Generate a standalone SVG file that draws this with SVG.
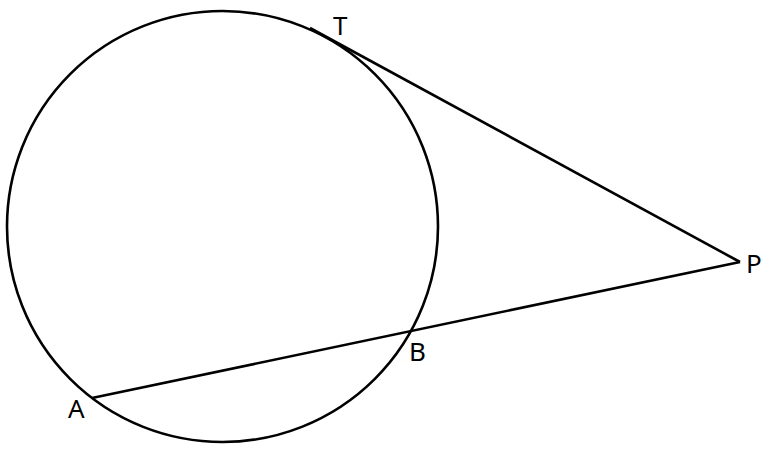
<svg xmlns="http://www.w3.org/2000/svg" width="774" height="453" viewBox="0 0 774 453">
<style>
.s{fill:none;stroke:#000;stroke-width:2.6}
.l{font-family:"Noto Sans","DejaVu Sans",sans-serif;font-size:26px;fill:#000}
</style>
<rect width="774" height="453" fill="#fff"/>
<g id="circle"><circle class="s" cx="222.5" cy="226.5" r="215.5"/></g>
<g id="connectors">
<line class="s" x1="310" y1="28" x2="740" y2="262"/>
<line class="s" x1="740" y1="262" x2="92" y2="398"/>
</g>
<g id="T"><text class="l" x="333" y="35">T</text></g>
<g id="P"><text class="l" x="746" y="273">P</text></g>
<g id="A"><text class="l" x="68" y="418">A</text></g>
<g id="B"><text class="l" x="409" y="361">B</text></g>
</svg>
